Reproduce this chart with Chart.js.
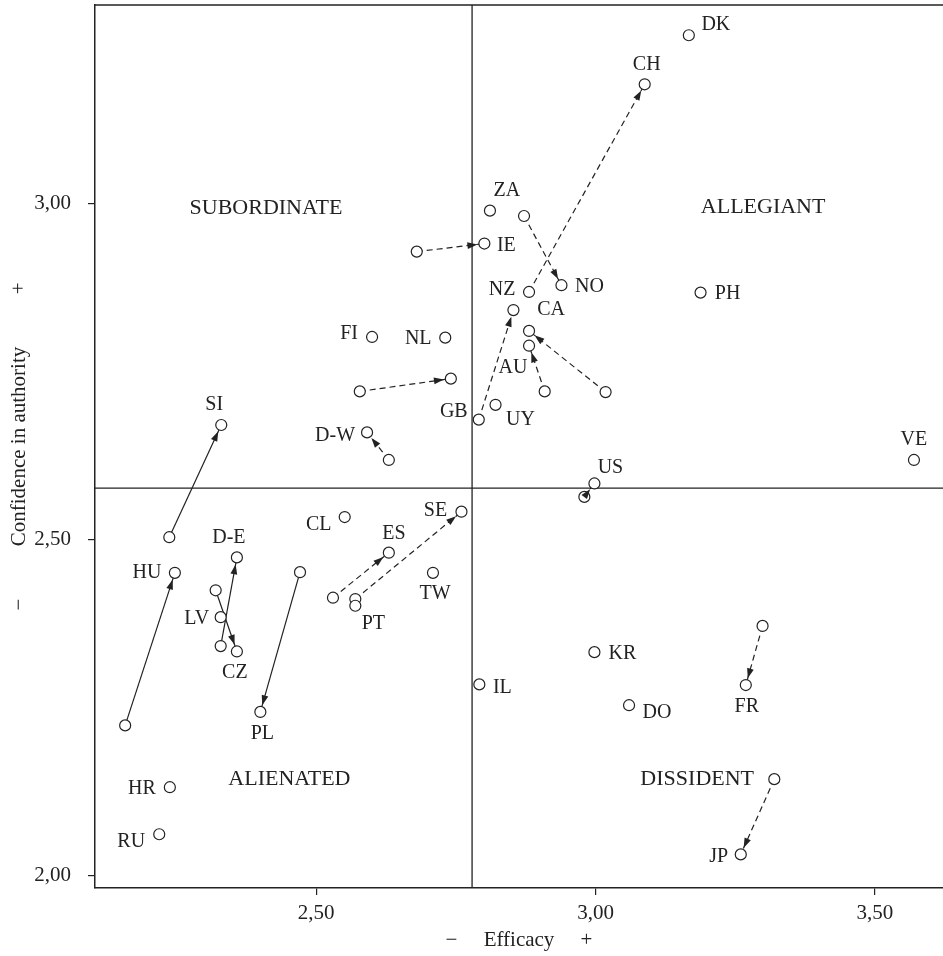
<!DOCTYPE html>
<html>
<head>
<meta charset="utf-8">
<script src="https://cdn.jsdelivr.net/npm/chart.js@4.4.1/dist/chart.umd.min.js"></script>
<style>
  html, body { margin: 0; padding: 0; background: #fff; }
  canvas { display: block; }
</style>
</head>
<body>
<canvas id="civicChart" width="943" height="956"></canvas>
<script>
// country codes ('' = earlier position, no label)
const countries = ['DK', 'CH', 'NZ', 'ZA', '', 'NO', 'IE', '', 'PH', '', 'CA', '', 'AU', '',
  'FI', 'NL', '', '', 'GB', 'UY', 'D-W', '', 'SI', '', 'VE', 'US', '', 'SE', '', 'PT', 'ES', '',
  'CL', 'TW', 'HU', '', 'D-E', '', '', 'CZ', 'LV', 'PL', '', 'IL', 'KR', 'DO', 'FR', '', 'JP', '',
  'HR', 'RU'];
const efficacy = [3.167, 3.088, 2.881, 2.811, 2.872, 2.939, 2.801, 2.680, 3.188, 2.853, 2.881, 3.018, 2.881, 2.909,
  2.600, 2.731, 2.578, 2.741, 2.791, 2.821, 2.591, 2.630, 2.330, 2.237, 3.570, 2.998, 2.980, 2.760, 2.570, 2.570, 2.630, 2.530,
  2.551, 2.709, 2.247, 2.158, 2.358, 2.329, 2.320, 2.358, 2.329, 2.400, 2.471, 2.792, 2.998, 3.060, 3.269, 3.299, 3.260, 3.320,
  2.238, 2.219];
const confidence = [3.250, 3.177, 2.868, 2.989, 2.981, 2.878, 2.940, 2.928, 2.867, 2.841, 2.810, 2.719, 2.788, 2.720,
  2.801, 2.800, 2.720, 2.739, 2.678, 2.700, 2.659, 2.618, 2.670, 2.503, 2.618, 2.583, 2.563, 2.541, 2.411, 2.401, 2.480, 2.413,
  2.533, 2.450, 2.450, 2.223, 2.473, 2.341, 2.424, 2.333, 2.384, 2.243, 2.451, 2.284, 2.332, 2.253, 2.283, 2.371, 2.031, 2.143,
  2.131, 2.061];

// change arrows: index of earlier and later position
const arrowFrom = [2, 4, 7, 18, 11, 13, 16, 21, 23, 26, 28, 31, 35, 37, 38, 42, 47, 49];
const arrowTo = [1, 5, 6, 9, 10, 12, 17, 20, 22, 25, 27, 30, 34, 36, 39, 41, 46, 48];
const arrowSolid = [false, false, false, false, false, false, false, false, true, false, false, false, true, true, true, true, false, false];

const splitEfficacy = 2.779;
const splitConfidence = 2.576;

const quadrantNames = ['SUBORDINATE', 'ALLEGIANT', 'ALIENATED', 'DISSIDENT'];
const quadrantEfficacy = [2.41, 3.30, 2.452, 3.182];
const quadrantConfidence = [2.993, 2.994, 2.143, 2.143];

const efficacyTicks = [2.5, 3.0, 3.5];
const efficacyTickLabels = ['2,50', '3,00', '3,50'];
const confidenceTicks = [2.0, 2.5, 3.0];
const confidenceTickLabels = ['2,00', '2,50', '3,00'];

const xMin = 2.104, xMax = 3.622;
const yMin = 1.981, yMax = 3.295;

// label placement (px offset of text centre from the circle)
const labelOffset = {
  'DK': [27, -10], 'CH': [2, -20], 'NZ': [-27, -2], 'ZA': [17, -20], 'NO': [28, 2], 'IE': [22, 2],
  'PH': [27, 1], 'CA': [22, -21], 'AU': [-16, 22], 'FI': [-23, -3], 'NL': [-27, 1], 'GB': [-25, -8],
  'UY': [25, 15], 'D-W': [-32, 3], 'SI': [-7, -20], 'VE': [0, -20], 'US': [16, -16], 'SE': [-26, -1],
  'PT': [18, 18], 'ES': [5, -19], 'CL': [-26, 8], 'TW': [2, 21], 'HU': [-28, 0], 'D-E': [-8, -20],
  'CZ': [-2, 21], 'LV': [-24, 2], 'PL': [2, 22], 'IL': [23, 3], 'KR': [28, 2], 'DO': [28, 8],
  'FR': [1, 22], 'JP': [-22, 2], 'HR': [-28, 2], 'RU': [-28, 8]
};

const serif = '"Liberation Serif", "Times New Roman", serif';
const ink = '#222';

const pts = countries.map((c, i) => ({ x: efficacy[i], y: confidence[i] }));

const arrowSets = arrowFrom.map((from, i) => ({
  type: 'line',
  data: [pts[from], pts[arrowTo[i]]],
  borderColor: ink,
  borderWidth: 1.2,
  borderDash: arrowSolid[i] ? [] : [6, 4],
  pointRadius: 0,
  fill: false,
  order: 2
}));

const splitSets = [
  [{ x: splitEfficacy, y: yMin }, { x: splitEfficacy, y: yMax }],
  [{ x: xMin, y: splitConfidence }, { x: xMax, y: splitConfidence }]
].map(d => ({ type: 'line', data: d, borderColor: ink, borderWidth: 1.3, pointRadius: 0, fill: false, order: 3 }));

// arrow heads, point labels, quadrant names, top frame
const annotate = {
  id: 'annotate',
  afterDatasetsDraw(chart) {
    const { ctx, chartArea, scales: { x, y } } = chart;
    ctx.save();
    ctx.strokeStyle = ink;
    ctx.lineWidth = 1.5;
    ctx.beginPath();
    ctx.moveTo(chartArea.left, chartArea.top);
    ctx.lineTo(chartArea.right, chartArea.top);
    ctx.stroke();

    ctx.fillStyle = ink;
    arrowFrom.forEach((from, i) => {
      const to = arrowTo[i];
      const x0 = x.getPixelForValue(efficacy[from]), y0 = y.getPixelForValue(confidence[from]);
      const x1 = x.getPixelForValue(efficacy[to]), y1 = y.getPixelForValue(confidence[to]);
      const a = Math.atan2(y1 - y0, x1 - x0);
      const c = Math.cos(a), s = Math.sin(a);
      const tx = x1 - c * 7, ty = y1 - s * 7;
      ctx.beginPath();
      ctx.moveTo(tx, ty);
      ctx.lineTo(tx - c * 10 - s * 3.4, ty - s * 10 + c * 3.4);
      ctx.lineTo(tx - c * 10 + s * 3.4, ty - s * 10 - c * 3.4);
      ctx.closePath();
      ctx.fill();
    });

    ctx.textAlign = 'center';
    ctx.textBaseline = 'middle';
    ctx.font = '20px ' + serif;
    countries.forEach((c, i) => {
      if (!c) return;
      const off = labelOffset[c] || [0, -18];
      ctx.fillText(c, x.getPixelForValue(efficacy[i]) + off[0], y.getPixelForValue(confidence[i]) + off[1]);
    });

    ctx.font = '22px ' + serif;
    quadrantNames.forEach((q, i) => {
      ctx.fillText(q, x.getPixelForValue(quadrantEfficacy[i]), y.getPixelForValue(quadrantConfidence[i]));
    });
    ctx.restore();
  }
};

const tickFont = { family: serif, size: 21 };

new Chart(document.getElementById('civicChart'), {
  type: 'scatter',
  data: {
    datasets: [
      {
        data: pts,
        pointRadius: 5.5,
        pointBackgroundColor: '#fff',
        pointBorderColor: ink,
        pointBorderWidth: 1.2,
        order: 0
      },
      ...arrowSets,
      ...splitSets
    ]
  },
  options: {
    responsive: false,
    animation: false,
    layout: { autoPadding: false, padding: { top: 5, right: 0, left: 0, bottom: 0 } },
    plugins: { legend: { display: false }, tooltip: { enabled: false } },
    scales: {
      x: {
        type: 'linear', min: xMin, max: xMax, bounds: 'data',
        afterBuildTicks: s => { s.ticks = efficacyTicks.map(v => ({ value: v })); },
        afterFit: s => { s.height = 68; s.paddingLeft = 0; s.paddingRight = 0; },
        ticks: {
          font: tickFont, color: ink, padding: 6, maxRotation: 0, autoSkip: false,
          callback: (v) => efficacyTickLabels[efficacyTicks.indexOf(v)]
        },
        grid: { display: true, drawOnChartArea: false, drawTicks: true, tickLength: 7, color: ink, lineWidth: 1.2 },
        border: { display: true, color: ink, width: 1.5 },
        title: { display: true, text: '\u2212     Efficacy     +', font: tickFont, color: ink, padding: { top: 0, bottom: 3 } }
      },
      y: {
        type: 'linear', min: yMin, max: yMax, bounds: 'data',
        afterBuildTicks: s => { s.ticks = confidenceTicks.map(v => ({ value: v })); },
        afterFit: s => { s.width = 95; s.paddingTop = 0; s.paddingBottom = 0; },
        ticks: {
          font: tickFont, color: ink, padding: 17, autoSkip: false,
          callback: (v) => confidenceTickLabels[confidenceTicks.indexOf(v)]
        },
        grid: { display: true, drawOnChartArea: false, drawTicks: true, tickLength: 7, color: ink, lineWidth: 1.2 },
        border: { display: true, color: ink, width: 1.5 },
        title: { display: true, text: '\u2212          Confidence in authority          +', font: tickFont, color: ink, padding: { top: 7, bottom: 0 } }
      }
    }
  },
  plugins: [annotate]
});
</script>
</body>
</html>
